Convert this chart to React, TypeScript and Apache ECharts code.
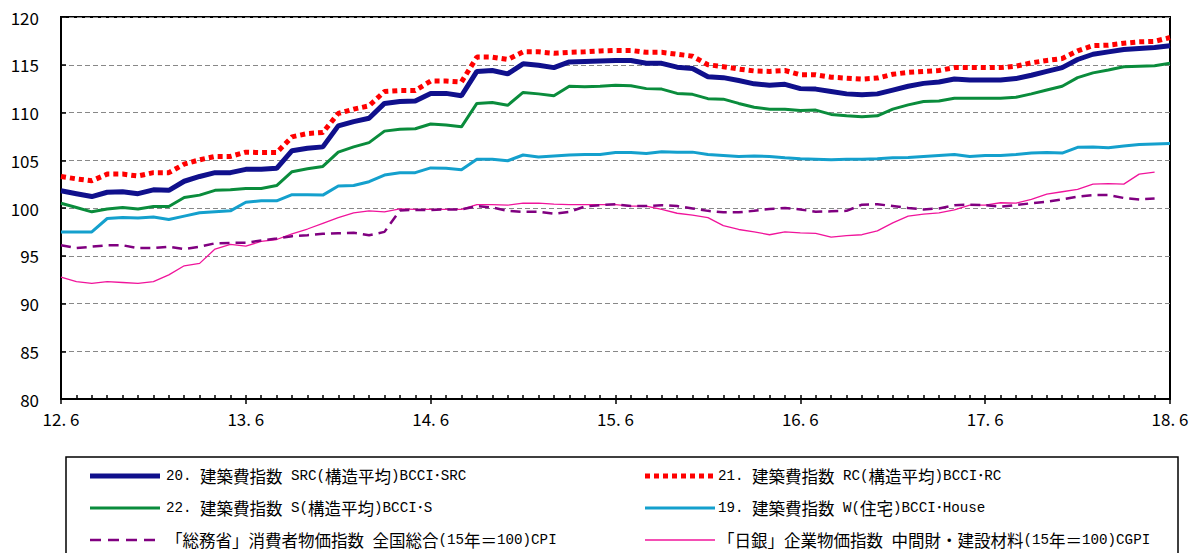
import React, { useEffect, useRef } from "react";
import * as echarts from "echarts";

const months = [
  "12.6", "12.7", "12.8", "12.9", "12.10", "12.11", "12.12",
  "13.1", "13.2", "13.3", "13.4", "13.5", "13.6", "13.7", "13.8", "13.9", "13.10", "13.11", "13.12",
  "14.1", "14.2", "14.3", "14.4", "14.5", "14.6", "14.7", "14.8", "14.9", "14.10", "14.11", "14.12",
  "15.1", "15.2", "15.3", "15.4", "15.5", "15.6", "15.7", "15.8", "15.9", "15.10", "15.11", "15.12",
  "16.1", "16.2", "16.3", "16.4", "16.5", "16.6", "16.7", "16.8", "16.9", "16.10", "16.11", "16.12",
  "17.1", "17.2", "17.3", "17.4", "17.5", "17.6", "17.7", "17.8", "17.9", "17.10", "17.11", "17.12",
  "18.1", "18.2", "18.3", "18.4", "18.5", "18.6",
];

const seriesNames = [
  "20. 建築費指数 SRC(構造平均)BCCI･SRC",
  "21. 建築費指数 RC(構造平均)BCCI･RC",
  "22. 建築費指数 S(構造平均)BCCI･S",
  "19. 建築費指数 W(住宅)BCCI･House",
  "「総務省」消費者物価指数 全国総合(15年＝100)CPI",
  "「日銀」企業物価指数 中間財・建設材料(15年＝100)CGPI",
];

const src = [
  101.8, 101.5, 101.2, 101.65, 101.7, 101.5, 101.9, 101.85, 102.8, 103.3,
  103.7, 103.7, 104.05, 104.05, 104.15, 106.0, 106.25, 106.4, 108.6, 109.05,
  109.4, 110.95, 111.15, 111.2, 112.0, 112.0, 111.75, 114.3, 114.4, 114.05,
  115.1, 114.95, 114.7, 115.3, 115.35, 115.4, 115.45, 115.45, 115.15, 115.15,
  114.75, 114.6, 113.75, 113.65, 113.35, 113.0, 112.85, 112.95, 112.5, 112.45,
  112.2, 111.95, 111.85, 111.95, 112.35, 112.75, 113.05, 113.2, 113.5, 113.4,
  113.4, 113.4, 113.55, 113.9, 114.3, 114.7, 115.55, 116.1, 116.35, 116.6,
  116.7, 116.8, 117.0,
];

const rc = [
  103.3, 103.05, 102.85, 103.55, 103.55, 103.35, 103.7, 103.7, 104.6, 105.05,
  105.4, 105.4, 105.85, 105.8, 105.8, 107.45, 107.8, 107.9, 109.9, 110.35,
  110.7, 112.2, 112.3, 112.3, 113.3, 113.3, 113.2, 115.8, 115.8, 115.55,
  116.35, 116.35, 116.2, 116.3, 116.35, 116.45, 116.5, 116.5, 116.3, 116.3,
  116.1, 115.9, 115.0, 114.8, 114.55, 114.35, 114.3, 114.4, 113.95, 113.95,
  113.7, 113.6, 113.5, 113.6, 114.0, 114.2, 114.3, 114.4, 114.7, 114.7,
  114.7, 114.7, 114.85, 115.2, 115.45, 115.65, 116.45, 117.0, 117.05, 117.25,
  117.4, 117.45, 117.85,
];

const steel = [
  100.5, 100.05, 99.6, 99.9, 100.05, 99.9, 100.15, 100.15, 101.1, 101.35,
  101.85, 101.9, 102.05, 102.05, 102.35, 103.8, 104.1, 104.35, 105.85, 106.4,
  106.85, 108.05, 108.25, 108.3, 108.8, 108.7, 108.5, 110.95, 111.05, 110.75,
  112.1, 111.95, 111.75, 112.75, 112.7, 112.75, 112.85, 112.8, 112.5, 112.45,
  112.0, 111.9, 111.45, 111.4, 110.95, 110.55, 110.35, 110.35, 110.2, 110.25,
  109.8, 109.65, 109.55, 109.65, 110.35, 110.8, 111.15, 111.2, 111.5, 111.5,
  111.5, 111.5, 111.6, 111.95, 112.35, 112.75, 113.65, 114.15, 114.45, 114.8,
  114.85, 114.9, 115.15,
];

const house = [
  97.5, 97.5, 97.5, 98.9, 99.0, 98.95, 99.05, 98.8, 99.15, 99.5,
  99.6, 99.7, 100.6, 100.75, 100.75, 101.4, 101.4, 101.35, 102.3, 102.35,
  102.75, 103.45, 103.7, 103.7, 104.2, 104.15, 104.0, 105.1, 105.1, 104.95,
  105.55, 105.35, 105.45, 105.55, 105.6, 105.6, 105.8, 105.8, 105.7, 105.9,
  105.85, 105.85, 105.6, 105.5, 105.4, 105.45, 105.4, 105.25, 105.15, 105.1,
  105.05, 105.1, 105.1, 105.15, 105.25, 105.3, 105.4, 105.5, 105.6, 105.4,
  105.5, 105.5, 105.6, 105.75, 105.8, 105.75, 106.35, 106.4, 106.3, 106.5,
  106.65, 106.7, 106.75,
];

const cpi = [
  96.1, 95.8, 95.95, 96.1, 96.1, 95.8, 95.8, 95.95, 95.7, 95.95,
  96.3, 96.35, 96.35, 96.6, 96.8, 97.05, 97.15, 97.3, 97.35, 97.4,
  97.15, 97.5, 99.75, 99.8, 99.8, 99.85, 99.85, 100.2, 100.05, 99.7,
  99.6, 99.6, 99.4, 99.6, 100.15, 100.3, 100.4, 100.2, 100.2, 100.3,
  100.2, 99.95, 99.7, 99.55, 99.55, 99.7, 99.9, 100.0, 99.85, 99.6,
  99.65, 99.7, 100.35, 100.4, 100.2, 100.0, 99.85, 99.95, 100.3, 100.35,
  100.3, 100.15, 100.3, 100.5, 100.65, 100.9, 101.2, 101.35, 101.35, 101.05,
  100.9, 101.0, null,
];

const cgpi = [
  92.75, 92.3, 92.1, 92.3, 92.2, 92.1, 92.3, 93.0, 93.95, 94.2,
  95.7, 96.2, 96.0, 96.5, 96.7, 97.3, 97.8, 98.4, 99.0, 99.5,
  99.7, 99.6, 99.9, 99.85, 99.85, 99.85, 99.85, 100.35, 100.35, 100.3,
  100.5, 100.5, 100.4, 100.35, 100.35, 100.35, 100.35, 100.2, 100.2, 99.85,
  99.45, 99.25, 99.0, 98.15, 97.75, 97.5, 97.2, 97.5, 97.4, 97.35,
  96.95, 97.1, 97.2, 97.6, 98.45, 99.15, 99.35, 99.5, 99.8, 100.3,
  100.3, 100.55, 100.5, 100.9, 101.45, 101.7, 101.95, 102.5, 102.55, 102.5,
  103.55, 103.75, null,
];

const COLORS = {
  src: "#10108c",
  rc: "#ff0000",
  steel: "#0a8c3c",
  house: "#14a0cd",
  cpi: "#800080",
  cgpi: "#f0149b",
};

const AXIS_FONT = "'Noto Sans CJK JP', sans-serif";

const STYLES = [
  { color: COLORS.src, width: 5, dash: null as number[] | null },
  { color: COLORS.rc, width: 5, dash: [5, 4] },
  { color: COLORS.steel, width: 3, dash: null },
  { color: COLORS.house, width: 3, dash: null },
  { color: COLORS.cpi, width: 2.5, dash: [10, 6] },
  { color: COLORS.cgpi, width: 1.3, dash: null },
];

// split a label into half-width (latin) and full-width runs, as rich text
function toRich(s: string): string {
  const parts = s.match(/[\x20-\x7E\uFF61-\uFF9F]+|[^\x20-\x7E\uFF61-\uFF9F]+/g) || [];
  return parts
    .map((p) => (/^[\x20-\x7E\uFF61-\uFF9F]/.test(p) ? `{l|${p}}` : `{c|${p}}`))
    .join("");
}

export default function App() {
  const ref = useRef<HTMLDivElement | null>(null);

  useEffect(() => {
    if (!ref.current) return;
    const chart = echarts.init(ref.current, undefined, { renderer: "svg" });

    const rowsY = [476, 508, 540];
    const legendGraphics: any[] = [
      {
        type: "rect",
        shape: { x: 66, y: 457, width: 1112, height: 120 },
        style: { fill: "none", stroke: "#000", lineWidth: 1.5 },
        z: 1,
      },
    ];
    [0, 1, 2, 3, 4, 5].forEach((idx) => {
      const col = idx % 2;
      const row = Math.floor(idx / 2);
      const y = rowsY[row];
      const x0 = col === 0 ? 90 : 645;
      const st = STYLES[idx];
      const lineStyle: any = { stroke: st.color, lineWidth: idx === 5 ? 1.6 : st.width };
      if (st.dash) lineStyle.lineDash = idx === 4 ? [11, 7] : st.dash;
      legendGraphics.push({
        type: "line",
        shape: { x1: x0, y1: y, x2: x0 + 70, y2: y },
        style: lineStyle,
        z: 2,
      });
      legendGraphics.push({
        type: "text",
        x: col === 0 ? 166 : 718,
        y: y,
        style: {
          text: toRich(seriesNames[idx]),
          fill: "#000",
          verticalAlign: "middle",
          align: "left",
          rich: {
            c: { fontSize: 16.5, fontFamily: "'Noto Sans CJK JP'", fill: "#000", lineHeight: 20 },
            l: { fontSize: 14.2, fontFamily: "'Liberation Mono', 'Noto Sans CJK JP'", fill: "#000", lineHeight: 20 },
          },
        },
        z: 2,
      });
    });

    const mkSeries = (idx: number, data: (number | null)[]) => {
      const st = STYLES[idx];
      const ls: any = { color: st.color, width: st.width };
      if (st.dash) {
        ls.type = st.dash;
        ls.cap = "butt";
      }
      return {
        name: seriesNames[idx],
        type: "line",
        data,
        symbol: "none",
        lineStyle: ls,
        itemStyle: { color: st.color },
      };
    };

    chart.setOption({
      animation: false,
      backgroundColor: "#fff",
      grid: {
        left: 61,
        top: 17,
        right: 27,
        bottom: 154,
        show: true,
        borderColor: "#000",
        borderWidth: 2,
        backgroundColor: "transparent",
      },
      graphic: legendGraphics,
      xAxis: [
        {
          type: "category",
          data: months,
          boundaryGap: false,
          axisLine: { show: true, lineStyle: { color: "#000", width: 2 } },
          axisTick: {
            show: true,
            inside: false,
            length: 5,
            interval: (i: number) => i % 12 === 0,
            lineStyle: { color: "#000", width: 1.5 },
          },
          axisLabel: {
            interval: (i: number) => i % 12 === 0,
            margin: 11,
            fontSize: 17,
            fontFamily: AXIS_FONT,
            color: "#000",
            formatter: (v: string) => v.replace(".", ". "),
          },
          splitLine: { show: false },
        },
        {
          type: "category",
          data: months,
          boundaryGap: false,
          position: "bottom",
          axisLine: { show: false },
          axisTick: {
            show: true,
            inside: true,
            length: 4,
            interval: 0,
            lineStyle: { color: "#000", width: 1.5 },
          },
          axisLabel: { show: false },
          splitLine: { show: false },
        },
      ],
      yAxis: {
        type: "value",
        min: 80,
        max: 120,
        interval: 5,
        axisLine: { show: true, lineStyle: { color: "#000", width: 2 } },
        axisTick: { show: true, inside: true, length: 5, lineStyle: { color: "#000", width: 1.5 } },
        axisLabel: { margin: 22, fontSize: 17, fontFamily: AXIS_FONT, color: "#000" },
        splitLine: { show: true, lineStyle: { color: "#888", width: 1, type: [5, 3] } },
      },
      series: [
        mkSeries(5, cgpi),
        mkSeries(4, cpi),
        mkSeries(3, house),
        mkSeries(2, steel),
        mkSeries(1, rc),
        mkSeries(0, src),
      ],
    });

    return () => chart.dispose();
  }, []);

  return (
    <div
      ref={ref}
      style={{ position: "fixed", left: 0, top: 0, width: 1197, height: 553 }}
    />
  );
}
